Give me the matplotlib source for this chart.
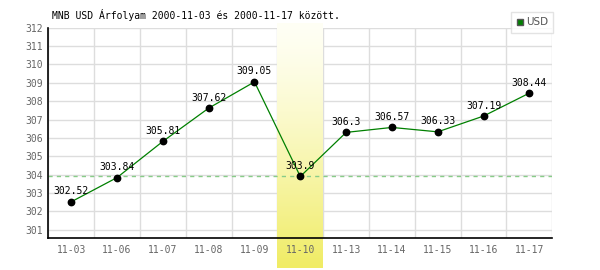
import matplotlib
matplotlib.use("Agg")
import matplotlib.pyplot as plt
import numpy as np
from matplotlib.lines import Line2D

# data
dates = ["11-03", "11-06", "11-07", "11-08", "11-09", "11-10",
         "11-13", "11-14", "11-15", "11-16", "11-17"]
rates = [302.52, 303.84, 305.81, 307.62, 309.05, 303.9,
         306.3, 306.57, 306.33, 307.19, 308.44]
labels = ["302.52", "303.84", "305.81", "307.62", "309.05", "303.9",
          "306.3", "306.57", "306.33", "307.19", "308.44"]
y_ticks = list(range(301, 313))
highlight = "11-10"
title = "MNB USD Árfolyam 2000-11-03 és 2000-11-17 között."
series_name = "USD"

MONO = "DejaVu Sans Mono"

fig = plt.figure(figsize=(6, 2.7), dpi=100)
ax = fig.add_axes([0.0805, 0.1185, 0.84, 0.7789])

x = np.arange(len(dates))
ax.set_xlim(-0.5, len(dates) - 0.5)
ax.set_ylim(300.55, 312)

# grid: vertical lines on the band edges, horizontal on integer ticks
for b in np.arange(-0.5, len(dates) + 0.5, 1):
    ax.axvline(b, color="#dddddd", lw=1, zorder=0)
for t in y_ticks:
    ax.axhline(t, color="#dddddd", lw=1, zorder=0)

# highlighted day: vertical gradient band running below the axis
hi = dates.index(highlight)
top = np.array([255, 255, 245]) / 255
bot = np.array([240, 236, 100]) / 255
grad = np.linspace(0, 1, 256)[:, None] ** 1.3
img = top + (bot - top) * grad[..., None]
img = np.repeat(img, 2, axis=1)
y_lo = 300.55 - (268 - 238) / 18.36
y_hi = 312 + (27.7 - 24) / 18.36
ax.imshow(img, extent=(hi - 0.5, hi + 0.5, y_lo, y_hi), origin="upper",
          aspect="auto", zorder=1, clip_on=False)

# reference line at the highlighted value
ax.axhline(rates[hi], color="#88cc88", lw=1, ls=(0, (3, 3)), zorder=2)

ax.plot(x, rates, color="#008000", lw=0.9, zorder=3)
ax.plot(x, rates, "o", color="black", ms=4.6, zorder=4)
for xi, v, s in zip(x, rates, labels):
    ax.annotate(s, (xi, v), xytext=(0, 7.5), textcoords="offset points",
                ha="center", va="center", fontsize=7, family=MONO,
                color="black", zorder=5)

ax.set_xticks(x)
ax.set_xticklabels(dates)
ax.set_yticks(y_ticks)
ax.tick_params(axis="x", length=0, labelsize=7, labelcolor="#666666", pad=5)
ax.tick_params(axis="y", length=0, labelsize=7, labelcolor="#666666", pad=4)
for lab in ax.get_xticklabels() + ax.get_yticklabels():
    lab.set_family(MONO)
for side in ("top", "right"):
    ax.spines[side].set_visible(False)
for side in ("left", "bottom"):
    ax.spines[side].set_color("black")
    ax.spines[side].set_linewidth(1.2)
    ax.spines[side].set_zorder(6)
ax.set_facecolor("white")

fig.text(0.087, 0.945, title, fontsize=7, family=MONO, ha="left", va="center")

handle = Line2D([], [], marker="s", ls="none", color="#008000",
                markeredgecolor="#555555", ms=5)
leg = fig.legend([handle], [series_name], loc="upper right",
                 bbox_to_anchor=(0.922, 0.955), fontsize=7.5, frameon=True,
                 fancybox=False, edgecolor="#dddddd", handlelength=0.6,
                 handletextpad=0.3, borderpad=0.5, borderaxespad=0)
for t in leg.get_texts():
    t.set_color("#555555")

fig.savefig("out.png", dpi=100)
